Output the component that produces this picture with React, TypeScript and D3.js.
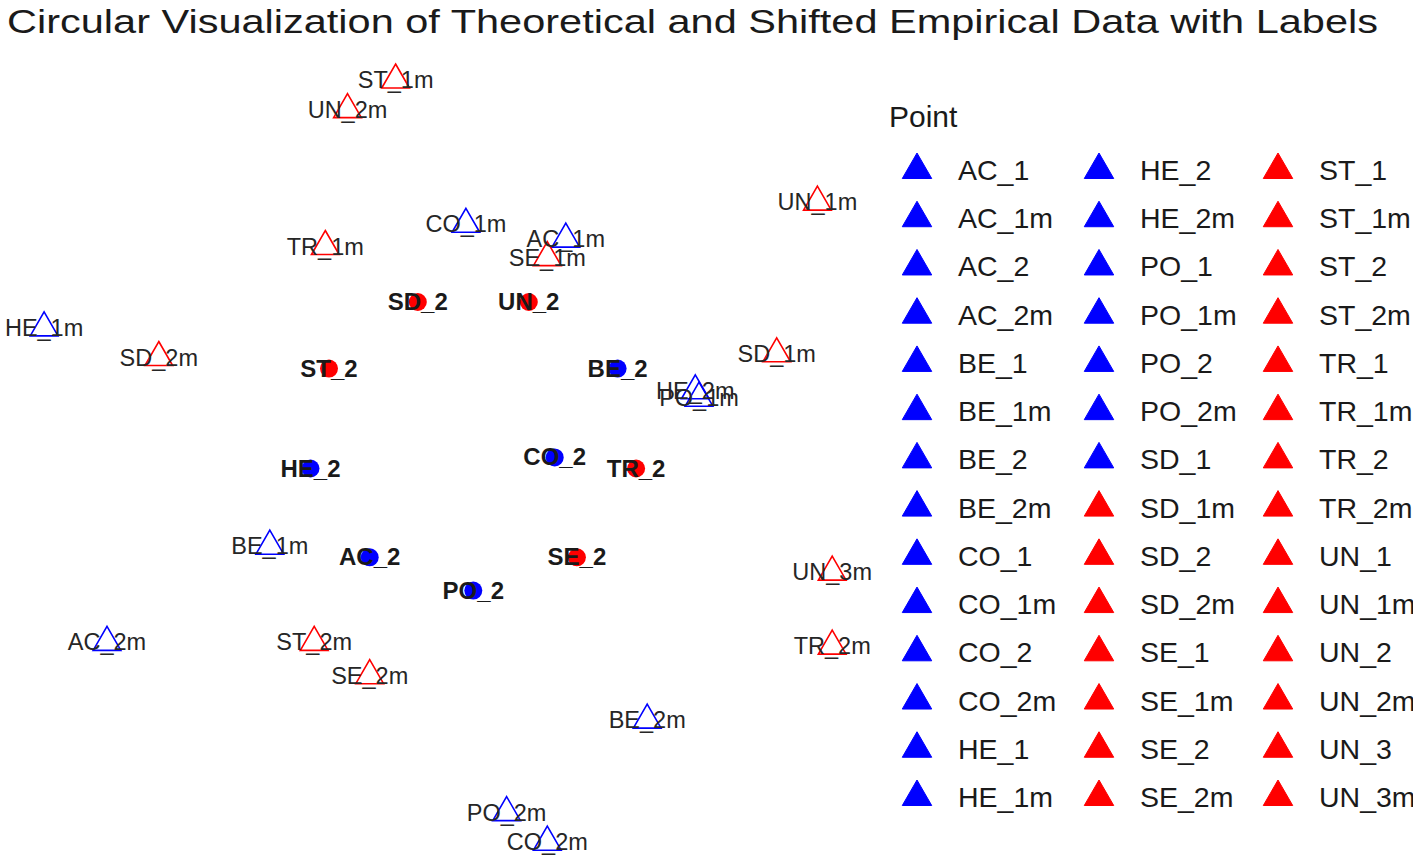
import * as d3 from 'd3';
import React, { useRef, useEffect } from 'react';

const W = 1418;
const H = 862;

// theoretical (shown as filled circles)
const theoNames = ['SD_2', 'UN_2', 'ST_2', 'BE_2', 'HE_2', 'CO_2', 'TR_2', 'AC_2', 'SE_2', 'PO_2'];
const theoX = [-0.06, 0.24, -0.3, 0.48, -0.35, 0.31, 0.53, -0.19, 0.37, 0.09];
const theoY = [0.4, 0.4, 0.22, 0.22, -0.05, -0.02, -0.05, -0.29, -0.29, -0.38];

// shifted empirical (hollow triangles)
const empNames = [
  'ST_1m', 'UN_2m', 'UN_1m', 'CO_1m', 'AC_1m', 'SE_1m', 'TR_1m', 'HE_1m', 'SD_2m', 'SD_1m', 'HE_2m',
  'PO_1m', 'BE_1m', 'UN_3m', 'AC_2m', 'ST_2m', 'TR_2m', 'SE_2m', 'BE_2m', 'PO_2m', 'CO_2m',
];
const empX = [-0.12, -0.25, 1.02, 0.07, 0.34, 0.29, -0.31, -1.07, -0.76, 0.91, 0.69, 0.7, -0.46, 1.06, -0.9, -0.34, 1.06, -0.19, 0.56, 0.18, 0.29];
const empY = [1.0, 0.92, 0.67, 0.61, 0.57, 0.52, 0.55, 0.33, 0.25, 0.26, 0.16, 0.14, -0.26, -0.33, -0.52, -0.52, -0.53, -0.61, -0.73, -0.98, -1.06];

// legend entries (all levels of Point)
const legendNames = [
  'AC_1', 'AC_1m', 'AC_2', 'AC_2m', 'BE_1', 'BE_1m', 'BE_2', 'BE_2m', 'CO_1', 'CO_1m', 'CO_2', 'CO_2m', 'HE_1', 'HE_1m',
  'HE_2', 'HE_2m', 'PO_1', 'PO_1m', 'PO_2', 'PO_2m', 'SD_1', 'SD_1m', 'SD_2', 'SD_2m', 'SE_1', 'SE_1m', 'SE_2', 'SE_2m',
  'ST_1', 'ST_1m', 'ST_2', 'ST_2m', 'TR_1', 'TR_1m', 'TR_2', 'TR_2m', 'UN_1', 'UN_1m', 'UN_2', 'UN_2m', 'UN_3', 'UN_3m',
];
const blueCount = 21; // AC_1 .. SD_1 are blue, the rest red

const FONT = '"Liberation Sans", Arial, Helvetica, sans-serif';

function colorOf(name: string) {
  const i = legendNames.indexOf(name);
  return i < blueCount ? '#0000ff' : '#ff0000';
}

function triPath(r: number) {
  // R pch 2 geometry: centroid on the point
  const xc = (r * Math.sqrt(3)) / 2;
  return `M0,${-r}L${xc},${r / 2}L${-xc},${r / 2}Z`;
}

export default function App() {
  const ref = useRef<SVGSVGElement>(null);

  useEffect(() => {
    const svg = d3.select(ref.current);
    svg.selectAll('*').remove();

    const x = d3.scaleLinear().domain([-1.2, 1.2]).range([-4, 884]);
    const y = d3.scaleLinear().domain([-1.2, 1.2]).range([894, 6]);

    svg
      .append('text')
      .attr('x', 7)
      .attr('y', 33)
      .attr('font-family', FONT)
      .attr('font-size', 33)
      .attr('fill', '#1a1a1a')
      .attr('textLength', 1371)
      .attr('lengthAdjust', 'spacingAndGlyphs')
      .text('Circular Visualization of Theoretical and Shifted Empirical Data with Labels');

    const plot = svg.append('g');

    const theo = theoNames.map((n, i) => ({ name: n, x: theoX[i], y: theoY[i] }));
    const emp = empNames.map((n, i) => ({ name: n, x: empX[i], y: empY[i] }));

    // empirical triangles
    plot
      .selectAll('path.emp')
      .data(emp)
      .enter()
      .append('path')
      .attr('class', 'emp')
      .attr('d', triPath(16))
      .attr('transform', (d) => `translate(${x(d.x)},${y(d.y)})`)
      .attr('fill', 'none')
      .attr('stroke', (d) => colorOf(d.name))
      .attr('stroke-width', 1.6);

    // theoretical circles
    plot
      .selectAll('circle.theo')
      .data(theo)
      .enter()
      .append('circle')
      .attr('cx', (d) => x(d.x))
      .attr('cy', (d) => y(d.y))
      .attr('r', 9)
      .attr('fill', (d) => colorOf(d.name));

    plot
      .selectAll('text.emp')
      .data(emp)
      .enter()
      .append('text')
      .attr('x', (d) => x(d.x))
      .attr('y', (d) => y(d.y) + 8)
      .attr('text-anchor', 'middle')
      .attr('font-family', FONT)
      .attr('font-size', 23.5)
      .attr('fill', '#262626')
      .text((d) => d.name);

    plot
      .selectAll('text.theo')
      .data(theo)
      .enter()
      .append('text')
      .attr('x', (d) => x(d.x))
      .attr('y', (d) => y(d.y) + 8)
      .attr('text-anchor', 'middle')
      .attr('font-family', FONT)
      .attr('font-size', 24)
      .attr('font-weight', 'bold')
      .attr('fill', '#1a1a1a')
      .text((d) => d.name);

    // legend (clipped at the right edge like the source image)
    svg
      .append('defs')
      .append('clipPath')
      .attr('id', 'legclip')
      .append('rect')
      .attr('x', 0)
      .attr('y', 0)
      .attr('width', 1413)
      .attr('height', H);

    const legend = svg.append('g').attr('clip-path', 'url(#legclip)');
    legend
      .append('text')
      .attr('x', 889)
      .attr('y', 127)
      .attr('font-family', FONT)
      .attr('font-size', 30)
      .attr('fill', '#1a1a1a')
      .text('Point');

    const rows = 14;
    const colX = d3.scaleOrdinal<number, number>().domain([0, 1, 2]).range([917, 1099, 1278]);
    const rowY = d3.scaleLinear().domain([0, rows - 1]).range([170, 797]);

    const items = legend
      .selectAll('g.item')
      .data(legendNames)
      .enter()
      .append('g')
      .attr('transform', (d, i) => `translate(${colX(Math.floor(i / rows))},${rowY(i % rows)})`);

    items
      .append('path')
      .attr('d', triPath(17))
      .attr('fill', (d) => colorOf(d))
      .attr('stroke', (d) => colorOf(d))
      .attr('stroke-width', 1);

    items
      .append('text')
      .attr('x', 41)
      .attr('y', 10)
      .attr('font-family', FONT)
      .attr('font-size', 28.5)
      .attr('fill', '#1a1a1a')
      .text((d) => d);
  }, []);

  return (
    <svg
      ref={ref}
      width={W}
      height={H}
      style={{ position: 'absolute', left: 0, top: 0, background: '#fff' }}
    />
  );
}
